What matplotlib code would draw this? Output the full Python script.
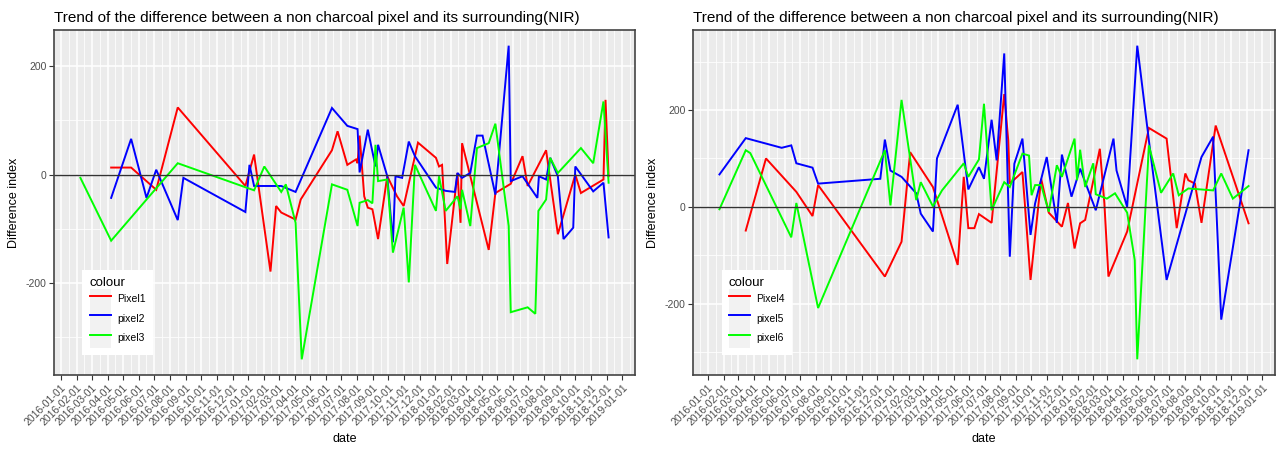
import matplotlib
matplotlib.use('Agg')
import matplotlib.pyplot as plt
import matplotlib.dates as mdates
import matplotlib.ticker as mticker
import pandas as pd
from matplotlib.patches import Patch
from matplotlib.lines import Line2D
from matplotlib.legend_handler import HandlerTuple

plt.rcParams['font.family'] = ['Liberation Sans', 'DejaVu Sans']
plt.rcParams['axes.unicode_minus'] = False

title = "Trend of the difference between a non charcoal pixel and its surrounding(NIR)"
colors = ['#FF0000', '#0000FF', '#00FF00']

# left panel
names_a = ['Pixel1', 'pixel2', 'pixel3']
p1_dates = ['2016-04-08', '2016-05-17', '2016-07-05', '2016-08-16', '2016-12-26', '2017-01-12',
            '2017-02-13', '2017-02-24', '2017-03-06', '2017-04-03', '2017-04-13', '2017-06-13',
            '2017-06-24', '2017-07-13', '2017-07-30', '2017-08-02', '2017-08-06', '2017-08-15',
            '2017-08-22', '2017-08-31', '2017-09-11', '2017-09-29', '2017-10-18', '2017-10-31',
            '2017-11-28', '2018-01-02', '2018-01-08', '2018-01-14', '2018-01-24', '2018-02-13',
            '2018-02-19', '2018-02-22', '2018-04-15', '2018-04-28', '2018-05-28', '2018-06-20',
            '2018-06-30', '2018-08-05', '2018-08-28', '2018-10-01', '2018-10-12', '2018-11-25',
            '2018-11-29', '2018-12-05']
p1_vals = [13, 13, -28, 124, -21, 37,
           -179, -58, -70, -83, -46, 45,
           80, 18, 28, 21, 72, -40,
           -61, -64, -119, -3, -40, -58,
           59, 31, 15, 18, -165, 3,
           -89, 58, -139, -34, -17, 34,
           -21, 45, -110, 0, -34, -9,
           138, -3]

p2_dates = ['2016-04-08', '2016-05-17', '2016-06-16', '2016-07-05', '2016-08-16', '2016-08-27',
            '2016-12-26', '2017-01-03', '2017-01-12', '2017-03-06', '2017-04-03', '2017-06-13',
            '2017-07-13', '2017-08-02', '2017-08-06', '2017-08-22', '2017-09-06', '2017-09-11',
            '2017-09-29', '2017-10-10', '2017-10-15', '2017-10-28', '2017-11-10', '2017-11-22',
            '2018-01-02', '2018-01-21', '2018-02-08', '2018-02-13', '2018-02-22', '2018-03-10',
            '2018-03-23', '2018-04-03', '2018-04-28', '2018-05-24', '2018-05-28', '2018-06-20',
            '2018-07-19', '2018-07-22', '2018-08-05', '2018-08-13', '2018-08-28', '2018-09-08',
            '2018-09-27', '2018-10-01', '2018-11-05', '2018-11-25', '2018-12-05']
p2_vals = [-43, 66, -43, 9, -84, -6,
           -69, 18, -21, -21, -32, 123,
           90, 84, 4, 83, 15, 55,
           -3, -125, -3, -6, 61, 34,
           -24, -30, -32, 3, -6, 3,
           72, 72, -37, 238, -12, -3,
           -43, -3, -9, 31, -3, -119,
           -98, 15, -31, -15, -116]

p3_dates = ['2016-02-08', '2016-04-08', '2016-08-16', '2017-01-12', '2017-02-01', '2017-03-06',
            '2017-03-15', '2017-04-03', '2017-04-15', '2017-06-13', '2017-07-13', '2017-08-02',
            '2017-08-06', '2017-08-22', '2017-08-31', '2017-09-06', '2017-09-11', '2017-09-29',
            '2017-10-10', '2017-10-31', '2017-11-10', '2017-11-22', '2018-01-02', '2018-01-08',
            '2018-01-21', '2018-02-13', '2018-02-19', '2018-02-22', '2018-03-10', '2018-03-23',
            '2018-04-15', '2018-04-28', '2018-05-24', '2018-05-28', '2018-06-30', '2018-07-15',
            '2018-07-21', '2018-08-05', '2018-08-13', '2018-08-28', '2018-10-12', '2018-11-05',
            '2018-11-25', '2018-12-05']
p3_vals = [-6, -122, 21, -29, 15, -32,
           -18, -89, -341, -18, -28, -95,
           -52, -47, -53, 55, -12, -9,
           -144, -61, -199, 18, -67, -3,
           -67, -40, -64, -28, -95, 49,
           58, 94, -95, -254, -245, -257,
           -67, -46, 31, 3, 49, 21,
           135, -15]

# right panel
names_b = ['Pixel4', 'pixel5', 'pixel6']
p4_dates = ['2016-03-16', '2016-04-25', '2016-06-24', '2016-07-26', '2016-08-06', '2016-12-16',
            '2017-01-18', '2017-02-04', '2017-03-21', '2017-05-09', '2017-05-21', '2017-05-30',
            '2017-06-11', '2017-06-20', '2017-07-15', '2017-08-09', '2017-08-17', '2017-08-20',
            '2017-09-14', '2017-09-30', '2017-10-21', '2017-11-05', '2017-12-01', '2017-12-13',
            '2017-12-26', '2018-01-06', '2018-01-16', '2018-02-14', '2018-02-23', '2018-03-03',
            '2018-04-09', '2018-05-22', '2018-06-26', '2018-07-16', '2018-08-02', '2018-08-08',
            '2018-08-21', '2018-09-03', '2018-10-01', '2018-12-05']
p4_vals = [-49, 100, 31, -19, 45, -144,
           -72, 113, 41, -120, 62, -44,
           -44, -15, -33, 233, 137, 48,
           72, -151, 58, -12, -41, 8,
           -86, -34, -27, 120, 7, -144,
           -51, 163, 141, -44, 69, 55,
           48, -33, 168, -34]

p5_dates = ['2016-01-24', '2016-03-16', '2016-05-26', '2016-06-14', '2016-06-24', '2016-07-26',
            '2016-08-06', '2016-12-07', '2016-12-16', '2016-12-27', '2017-01-18', '2017-02-16',
            '2017-02-25', '2017-03-21', '2017-03-29', '2017-05-09', '2017-05-30', '2017-06-20',
            '2017-06-30', '2017-07-15', '2017-07-25', '2017-08-09', '2017-08-20', '2017-08-29',
            '2017-09-14', '2017-09-30', '2017-10-09', '2017-11-01', '2017-11-21', '2017-12-01',
            '2017-12-20', '2018-01-06', '2018-02-06', '2018-03-13', '2018-03-19', '2018-04-09',
            '2018-04-29', '2018-05-22', '2018-06-26', '2018-09-03', '2018-09-26', '2018-10-12',
            '2018-12-05']
p5_vals = [67, 142, 122, 127, 90, 81,
           48, 58, 139, 75, 62, 28,
           -14, -51, 100, 211, 36, 82,
           58, 180, 96, 317, -103, 89,
           141, -58, 7, 103, -33, 108,
           21, 79, -7, 141, 75, 0,
           333, 137, -151, 103, 145, -233,
           117]

p6_dates = ['2016-01-24', '2016-03-16', '2016-03-25', '2016-06-14', '2016-06-24', '2016-08-06',
            '2016-12-16', '2016-12-27', '2017-01-18', '2017-02-16', '2017-02-25', '2017-03-21',
            '2017-04-08', '2017-05-21', '2017-05-30', '2017-06-20', '2017-06-30', '2017-07-15',
            '2017-08-09', '2017-08-20', '2017-09-14', '2017-09-27', '2017-10-02', '2017-10-09',
            '2017-10-21', '2017-11-05', '2017-11-21', '2017-12-01', '2017-12-26', '2017-12-31',
            '2018-01-06', '2018-01-16', '2018-02-01', '2018-02-06', '2018-02-28', '2018-03-16',
            '2018-04-09', '2018-04-24', '2018-04-29', '2018-05-22', '2018-06-15', '2018-07-09',
            '2018-07-20', '2018-08-08', '2018-09-26', '2018-10-12', '2018-11-04', '2018-12-05']
p6_vals = [-5, 117, 111, -63, 8, -209,
           117, 3, 221, 14, 51, 1,
           34, 90, 62, 98, 213, -7,
           51, 41, 110, 106, 24, 45,
           45, -10, 86, 62, 141, 55,
           118, 41, 90, 26, 17, 28,
           -12, -110, -315, 127, 29, 69,
           24, 38, 34, 69, 17, 43]


def panel(ax, series, names):
    ax.set_facecolor('#EBEBEB')
    for (d, v), c, n in zip(series, colors, names):
        ax.plot(pd.to_datetime(d), v, color=c, lw=1.4, label=n, solid_joinstyle='miter')
    ax.axhline(0, color='#333333', lw=1.0)
    ax.margins(0.05)

    ax.xaxis.set_major_locator(mdates.MonthLocator())
    ax.xaxis.set_major_formatter(mdates.DateFormatter('%Y-%m-%d'))
    months = pd.date_range('2015-11-01', '2019-03-01', freq='MS')
    mids = months[:-1] + (months[1:] - months[:-1]) / 2
    ax.xaxis.set_minor_locator(mticker.FixedLocator(mdates.date2num(mids)))
    ax.yaxis.set_major_locator(mticker.MultipleLocator(200))
    ax.yaxis.set_minor_locator(mticker.MultipleLocator(100))

    ax.grid(which='major', color='white', lw=1.1)
    ax.grid(which='minor', color='white', lw=0.55)
    ax.set_axisbelow(True)
    ax.tick_params(which='major', length=3.5, width=0.8, color='#333333',
                   labelcolor='#4D4D4D', labelsize=7.5, pad=2)
    ax.tick_params(which='minor', length=0)
    for lab in ax.get_xticklabels():
        lab.set_rotation(45)
        lab.set_ha('right')
        lab.set_rotation_mode('anchor')
    for s in ax.spines.values():
        s.set_color('#444444')
        s.set_linewidth(1.2)

    ax.set_title(title, loc='left', fontsize=11, pad=6)
    ax.set_xlabel('date', fontsize=9)
    ax.set_ylabel('Difference index', fontsize=9, labelpad=4)

    handles = [(Patch(facecolor='#F2F2F2', edgecolor='none'), Line2D([], [], color=c, lw=1.4))
               for c in colors]
    ax.legend(handles, names, handler_map={tuple: HandlerTuple(ndivide=1, pad=0)},
              loc='lower left', bbox_to_anchor=(0.049, 0.058), title='colour',
              alignment='left', fontsize=7.5, title_fontsize=9.5, frameon=True,
              fancybox=False, edgecolor='none', facecolor='white', framealpha=1,
              handlelength=2.0, handleheight=2.5, labelspacing=0, handletextpad=0.6,
              borderpad=0.7, borderaxespad=0)


fig = plt.figure(figsize=(12.85, 4.5), dpi=100)
ax1 = fig.add_axes([54 / 1285, 75 / 450, 581 / 1285, 345 / 450])
ax2 = fig.add_axes([693 / 1285, 75 / 450, 582 / 1285, 345 / 450])

panel(ax1, [(p1_dates, p1_vals), (p2_dates, p2_vals), (p3_dates, p3_vals)], names_a)
panel(ax2, [(p4_dates, p4_vals), (p5_dates, p5_vals), (p6_dates, p6_vals)], names_b)

fig.savefig('out.png', dpi=100)
